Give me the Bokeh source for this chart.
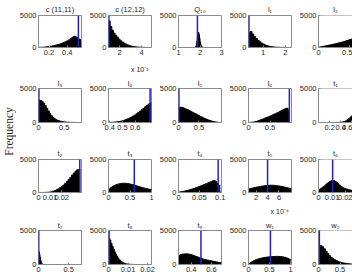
import numpy as np
from bokeh.plotting import figure
from bokeh.layouts import gridplot, row
from bokeh.models import Span, Label, FixedTicker, Range1d
from bokeh.embed import file_html
from bokeh.resources import INLINE

# ---- data -------------------------------------------------------------
TITLES = ["c (11,11)", "c (12,12)", "Q\u2081\u2080", "l\u2081", "l\u2082",
          "l\u2083", "l\u2084", "l\u2085", "l\u2086", "t\u2081",
          "t\u2082", "t\u2083", "t\u2084", "t\u2085", "t\u2086",
          "t\u2087", "t\u2088", "t\u2089", "w\u2081", "w\u2082"]

# visible x-limits of each panel (axis units)
XLIMS = [(0.085, 0.555), (1.0, 4.9), (1, 3), (0.34, 2.28), (0, 0.545),
         (0, 0.84), (0.39, 0.728), (0, 1.05), (0, 1.0), (0, 0.61),
         (0, 0.037), (0, 1), (0, 0.103), (0.65, 8.2), (0, 0.025),
         (0, 0.71), (0, 0.022), (0.275, 0.70), (0, 1.02), (0, 0.79)]

XTICKS = [[0.2, 0.4], [2, 4], [1, 2, 3], [1, 2], [0, 0.5],
          [0, 0.5], [0.4, 0.5, 0.6], [0, 0.5], [0, 0.5], [0.2, 0.4, 0.6],
          [0, 0.01, 0.02], [0, 0.5, 1], [0, 0.05, 0.1], [2, 4, 6], [0, 0.01, 0.02],
          [0, 0.5], [0, 0.01, 0.02], [0.4, 0.6], [0, 0.5, 1], [0, 0.5]]

XTICK_LABELS = [["0.2", "0.4"], ["2", "4"], ["1", "2", "3"], ["1", "2"], ["0", "0.5"],
                ["0", "0.5"], ["0.4", "0.5", "0.6"], ["0", "0.5"], ["0", "0.5"], ["0.2", "0.4", "0.6"],
                ["0", "0.01", "0.02"], ["0", "0.5", "1"], ["0", "0.05", "0.1"], ["2", "4", "6"], ["0", "0.01", "0.02"],
                ["0", "0.5"], ["0", "0.01", "0.02"], ["0.4", "0.6"], ["0", "0.5", "1"], ["0", "0.5"]]

# axis multipliers shown under some panels
EXPONENTS = {1: "x 10\u207b\u00b3", 13: "x 10\u207b\u2074"}

# histogram bin range (lo, hi) for each panel
BIN_RANGES = [(0.09, 0.55), (1.0, 4.75), (1.75, 2.15), (0.34, 2.26), (0, 0.55),
              (0, 0.81), (0.39, 0.7275), (0, 1.0), (0, 0.96), (0.3, 0.62),
              (0, 0.036), (0, 1.0), (0, 0.1), (0.7, 8.2), (0, 0.026),
              (0, 0.08), (0, 0.0132), (0.275, 0.70), (0, 1.0), (0, 0.8)]

c11_counts = [20, 30, 50, 80, 110, 150, 200, 250, 310, 380, 460, 540, 640, 760, 880,
              1020, 1180, 1380, 1600, 1750, 1620, 1380, 1250]
c12_counts = [4150, 3300, 2700, 2250, 1900, 1600, 1300, 1050, 850, 680, 540, 420, 320,
              240, 180, 135, 100, 72, 52, 37, 26, 18, 12, 8, 5]
q10_counts = [10, 40, 150, 450, 1000, 1700, 2200, 2350, 2000, 1450, 900, 500, 250, 110, 40, 15]
l1_counts = [2300, 2500, 2100, 1700, 1400, 1120, 900, 700, 530, 400, 290, 210, 150, 105,
             75, 50, 35, 25, 17, 12, 8, 5, 3, 2]
l2_counts = [50, 100, 150, 200, 250, 300, 350, 400, 450, 500, 560, 620, 680, 740, 800,
             870, 940, 1010, 1090, 1170, 1250, 1330]
l3_counts = [3300, 3250, 3100, 2850, 2500, 2100, 1700, 1320, 1000, 760, 560, 420, 320, 240,
             180, 130, 95, 70, 50, 35, 25, 18, 12, 8, 5, 3, 2]
l4_counts = [10, 20, 35, 55, 80, 110, 150, 210, 280, 360, 450, 550, 670, 800, 950, 1100,
             1280, 1470, 1670, 1870, 2080, 2300, 2500, 2700, 2850]
l5_counts = [2200, 2250, 2200, 2100, 2000, 1900, 1780, 1650, 1520, 1400, 1270, 1140, 1010,
             880, 760, 650, 540, 440, 350, 270, 200, 140, 90, 50, 20]
l6_counts = [10, 25, 50, 90, 150, 230, 320, 420, 520, 620, 720, 820, 920, 1030, 1150, 1270,
             1390, 1510, 1640, 1770, 1900, 2020, 2100, 1800]
t1_counts = [5, 10, 15, 25, 35, 50, 70, 100, 150, 230, 330, 450, 580, 720, 880, 1050]
t2_counts = [3, 5, 8, 14, 22, 35, 60, 110, 190, 290, 410, 550, 720, 900, 1120, 1380, 1670,
             1980, 2300, 2650, 2950, 3250, 3450, 3500]
t3_counts = [540, 720, 900, 1050, 1170, 1260, 1320, 1370, 1400, 1400, 1380, 1340, 1290,
             1230, 1160, 1080, 1000, 920, 840, 760, 690, 620, 560, 500, 450]
t4_counts = [60, 100, 150, 200, 260, 320, 390, 460, 540, 620, 710, 800, 900, 1000, 1100,
             1200, 1310, 1420, 1530, 1640, 1750, 1800, 1650, 1350, 1050]
t5_counts = [550, 620, 680, 740, 800, 850, 900, 950, 990, 1030, 1060, 1080, 1100, 1100,
             1090, 1070, 1040, 1000, 950, 900, 840, 780, 720, 660, 600]
t6_counts = [450, 560, 690, 840, 1000, 1180, 1360, 1530, 1680, 1780, 1820, 1780, 1680,
             1520, 1330, 1130, 950, 810, 700, 610, 540, 480, 420, 370, 320, 280]
t7_counts = [1900, 1800, 1500, 1100, 700, 400, 200, 90, 40, 15]
t8_counts = [3900, 3600, 3100, 2650, 2250, 1850, 1500, 1180, 900, 680, 500, 360, 260, 180,
             125, 85, 58, 40, 27, 18, 12, 8]
t9_counts = [1350, 1450, 1520, 1560, 1570, 1550, 1500, 1430, 1350, 1260, 1160, 1060, 960,
             870, 790, 720, 660, 610, 560, 510, 460, 410, 360, 310, 260]
w1_counts = [150, 300, 450, 580, 690, 780, 860, 920, 980, 1030, 1070, 1100, 1130, 1150,
             1170, 1180, 1190, 1190, 1180, 1160, 1120, 1060, 980, 880, 760]
w2_counts = [2750, 2800, 2600, 2300, 1950, 1600, 1300, 1050, 850, 690, 560, 450, 360, 290,
             230, 180, 140, 110, 85, 65]

COUNTS = [c11_counts, c12_counts, q10_counts, l1_counts, l2_counts,
          l3_counts, l4_counts, l5_counts, l6_counts, t1_counts,
          t2_counts, t3_counts, t4_counts, t5_counts, t6_counts,
          t7_counts, t8_counts, t9_counts, w1_counts, w2_counts]

# reference value marked by a vertical line (None: outside the visible range)
MARKERS = [0.521, 1.03, 1.88, 0.36, None,
           0.008, 0.717, 0.01, 0.95, None,
           0.0355, 0.6, 0.095, 4.0, 0.0104,
           0.004, 0.0003, 0.497, 0.52, 0.02]

YMAX = 5000
Y_TICKS = [0, 5000]

# ---- layout / style ---------------------------------------------------
NCOLS, NROWS = 5, 4
FRAME_W, FRAME_W_LAST, FRAME_H = 45, 36, 34
BORDER_L, BORDER_R = 20, 5
ROW_TOP = [15, 13, 15, 13]
ROW_BOTTOM = [26, 22, 24, 16]
TITLE_STANDOFF = [3, 2, 3, 2]
EXP_STANDOFF = [8, 0, 5, 0]
EXP_PAD = "\u00a0" * 10   # shifts the centred multiplier text to the right end
FRAME_C = "#8a8a8a"
TEXT_C = "#1e1e1e"
FONT = "Liberation Sans"
FS = "7.5px"
MARK_C = "#2222cc"


def set_exponent(ax, text, standoff):
    """Multiplier text under the tick labels, towards the right end."""
    ax.axis_label = EXP_PAD + text
    ax.axis_label_text_font = FONT
    ax.axis_label_text_font_size = "7px"
    ax.axis_label_text_font_style = "normal"
    ax.axis_label_text_color = TEXT_C
    ax.axis_label_standoff = standoff


def panel(i):
    r, c = divmod(i, NCOLS)
    last = c == NCOLS - 1
    fw = FRAME_W_LAST if last else FRAME_W
    br = 0 if last else BORDER_R
    p = figure(width=BORDER_L + fw + br, height=ROW_TOP[r] + FRAME_H + ROW_BOTTOM[r],
               x_range=Range1d(*XLIMS[i]), y_range=Range1d(0, YMAX),
               output_backend="svg", toolbar_location=None,
               min_border_left=BORDER_L, min_border_right=br,
               min_border_top=ROW_TOP[r], min_border_bottom=ROW_BOTTOM[r])
    p.grid.visible = False
    p.background_fill_color = "white"
    p.border_fill_color = "white"
    if last:
        p.outline_line_color = None
        p.add_layout(Span(location=YMAX, dimension="width", line_color=FRAME_C, line_width=1))
    else:
        p.outline_line_color = FRAME_C
        p.outline_line_width = 1

    # histogram drawn as one solid stepped area (bin edges -> counts)
    counts = np.asarray(COUNTS[i], dtype=float)
    lo, hi = BIN_RANGES[i]
    edges = np.linspace(lo, hi, len(counts) + 1)
    tops = np.append(counts, counts[-1])
    p.varea_step(x=edges, y1=np.zeros_like(tops), y2=tops, step_mode="after",
                 fill_color="black")
    p.step(x=edges, y=tops, mode="after", line_color="black", line_width=1)

    if MARKERS[i] is not None:
        p.add_layout(Span(location=MARKERS[i], dimension="height",
                          line_color=MARK_C, line_width=1.5))

    p.xaxis.ticker = FixedTicker(ticks=XTICKS[i])
    p.xaxis.major_label_overrides = dict(zip(XTICKS[i], XTICK_LABELS[i]))
    p.yaxis.ticker = FixedTicker(ticks=Y_TICKS)
    p.yaxis.major_label_overrides = {t: str(t) for t in Y_TICKS}
    for ax in (p.xaxis[0], p.yaxis[0]):
        ax.major_tick_in = 2
        ax.major_tick_out = 0
        ax.minor_tick_line_color = None
        ax.axis_line_color = FRAME_C
        ax.major_tick_line_color = FRAME_C
        ax.major_label_text_font = FONT
        ax.major_label_text_font_size = FS
        ax.major_label_text_color = TEXT_C
        ax.major_label_standoff = 2

    p.title.text = TITLES[i]
    p.title.align = "center"
    p.title.text_font = FONT
    p.title.text_font_size = FS
    p.title.text_font_style = "normal"
    p.title.text_color = TEXT_C
    p.title.standoff = TITLE_STANDOFF[r]

    if i in EXPONENTS:
        set_exponent(p.xaxis[0], EXPONENTS[i], EXP_STANDOFF[r])
    return p


panels = [panel(i) for i in range(NCOLS * NROWS)]
grid = gridplot([panels[r * NCOLS:(r + 1) * NCOLS] for r in range(NROWS)],
                toolbar_location=None)

# shared y-axis caption
cap = figure(width=16, height=280, output_backend="svg", toolbar_location=None,
             x_axis_location=None, y_axis_location=None, min_border=0,
             x_range=(0, 1), y_range=(0, 1))
cap.grid.visible = False
cap.outline_line_color = None
cap.add_layout(Label(x=8, y=149, x_units="screen", y_units="screen", text="Frequency",
                     angle=np.pi / 2, text_align="center", text_baseline="middle",
                     text_font="Liberation Serif", text_font_size="11.5px",
                     text_color=TEXT_C))

layout = row(cap, grid)
open("out.html", "w").write(file_html(layout, INLINE))
